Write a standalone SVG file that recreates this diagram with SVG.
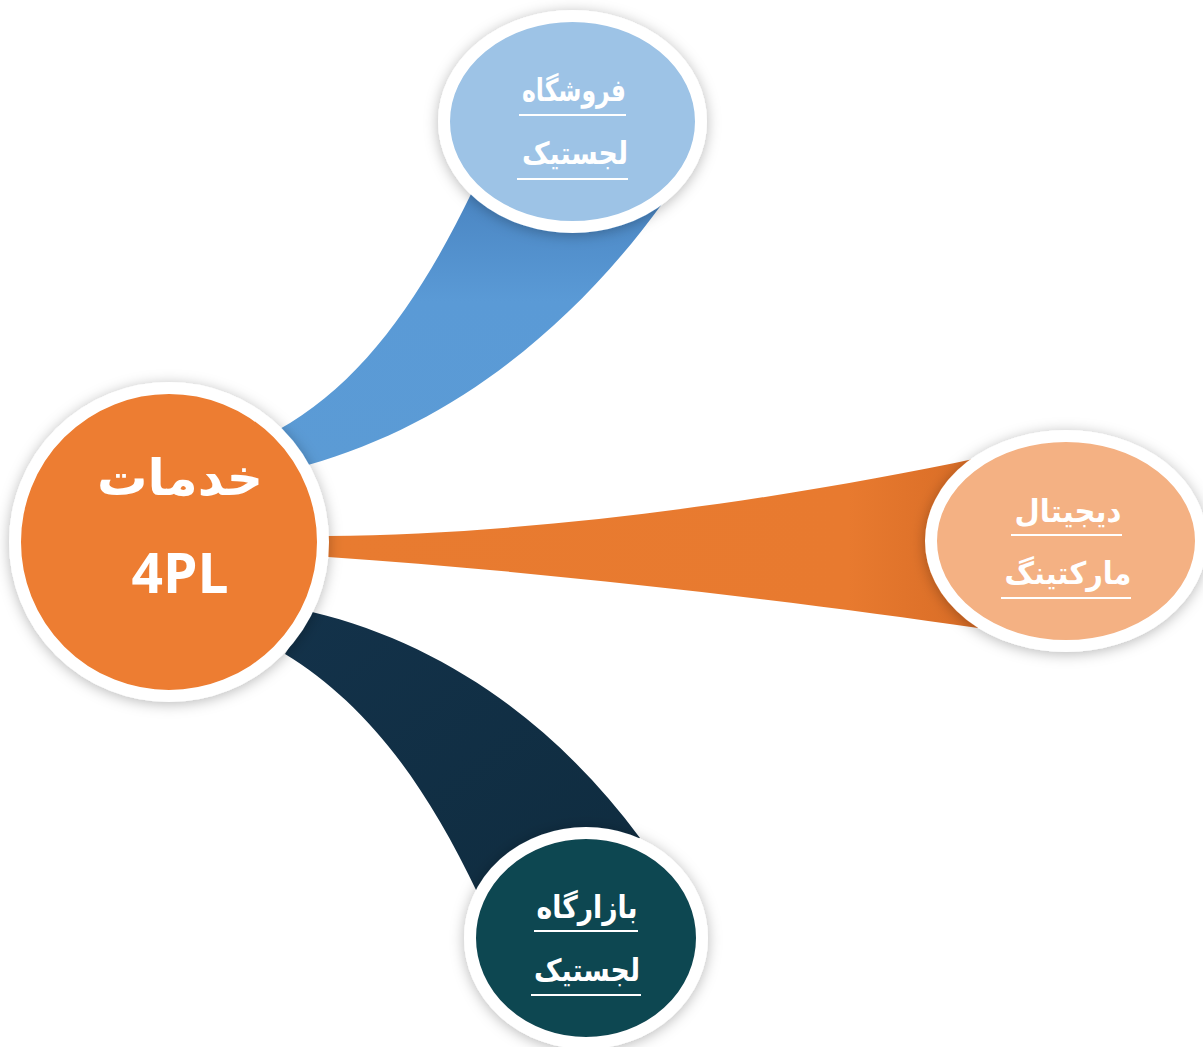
<svg xmlns="http://www.w3.org/2000/svg" width="1203" height="1047" viewBox="0 0 1203 1047">
<style>
.ring{stroke:#fff;stroke-width:12}
.lbl{font-family:"DejaVu Sans",sans-serif;font-weight:bold;fill:#fff;text-anchor:middle}
.ul{stroke:#fff;stroke-width:2}
</style>
<defs>
<filter id="sh" x="-30%" y="-30%" width="160%" height="160%">
<feDropShadow dx="0" dy="2" stdDeviation="7" flood-color="#000" flood-opacity="0.28"/>
</filter>
<linearGradient id="gBlue" x1="0" y1="1" x2="0" y2="0">
<stop offset="0" stop-color="#5b9bd5"/><stop offset="0.6" stop-color="#5a9ad6"/><stop offset="1" stop-color="#4a85c2"/>
</linearGradient>
<linearGradient id="gOr" x1="0" y1="0" x2="1" y2="0">
<stop offset="0" stop-color="#e87b30"/><stop offset="0.8" stop-color="#e87a2f"/><stop offset="1" stop-color="#d86c26"/>
</linearGradient>
<linearGradient id="gDk" x1="0" y1="0" x2="1" y2="1">
<stop offset="0" stop-color="#13324a"/><stop offset="1" stop-color="#0f2c3f"/>
</linearGradient>
</defs>
<g id="connectors">
<path d="M 278 430 C 360 385 420 300 472 192 L 662 204 C 570 330 450 425 308 465 Z" fill="url(#gBlue)"/>
<path d="M 328 536 C 550 534 800 496 978 458 L 978 628 C 800 602 550 572 328 557 Z" fill="url(#gOr)"/>
<path d="M 312 612 C 450 645 560 730 640 838 L 478 894 C 420 772 360 700 285 654 Z" fill="url(#gDk)"/>
</g>
<g id="node-center">
<circle cx="169" cy="542" r="154" fill="#ed7d31" class="ring" filter="url(#sh)"/>
<text class="lbl" x="180" y="495" font-size="50" direction="rtl" textLength="166" lengthAdjust="spacingAndGlyphs">خدمات</text>
<text x="180" y="593" font-family="'Open Sans',sans-serif" font-weight="bold" font-size="55" fill="#fff" text-anchor="middle">4PL</text>
</g>
<g id="node-top">
<ellipse cx="572.5" cy="121.5" rx="128.5" ry="105.5" fill="#9dc3e6" class="ring" filter="url(#sh)"/>
<text class="lbl" x="574" y="101" font-size="31" direction="rtl" textLength="104" lengthAdjust="spacingAndGlyphs">فروشگاه</text>
<line class="ul" x1="519" y1="115" x2="626" y2="115"/>
<text class="lbl" x="575" y="164" font-size="31" direction="rtl" textLength="106" lengthAdjust="spacingAndGlyphs">لجستیک</text>
<line class="ul" x1="517" y1="179" x2="628" y2="179"/>
</g>
<g id="node-right">
<ellipse cx="1066" cy="541" rx="135" ry="105" fill="#f4b183" class="ring" filter="url(#sh)"/>
<text class="lbl" x="1068" y="522" font-size="31" direction="rtl" textLength="107" lengthAdjust="spacingAndGlyphs">دیجیتال</text>
<line class="ul" x1="1011" y1="535" x2="1122" y2="535"/>
<text class="lbl" x="1068" y="584" font-size="31" direction="rtl" textLength="127" lengthAdjust="spacingAndGlyphs">مارکتینگ</text>
<line class="ul" x1="1001" y1="598" x2="1131" y2="598"/>
</g>
<g id="node-bottom">
<ellipse cx="586" cy="938" rx="116" ry="105" fill="#114651" class="ring" filter="url(#sh)"/>
<text class="lbl" x="587" y="918" font-size="31" direction="rtl" textLength="101" lengthAdjust="spacingAndGlyphs">بازارگاه</text>
<line class="ul" x1="534" y1="931" x2="638" y2="931"/>
<text class="lbl" x="587" y="981" font-size="31" direction="rtl" textLength="106" lengthAdjust="spacingAndGlyphs">لجستیک</text>
<line class="ul" x1="531" y1="995" x2="641" y2="995"/>
</g>
</svg>
